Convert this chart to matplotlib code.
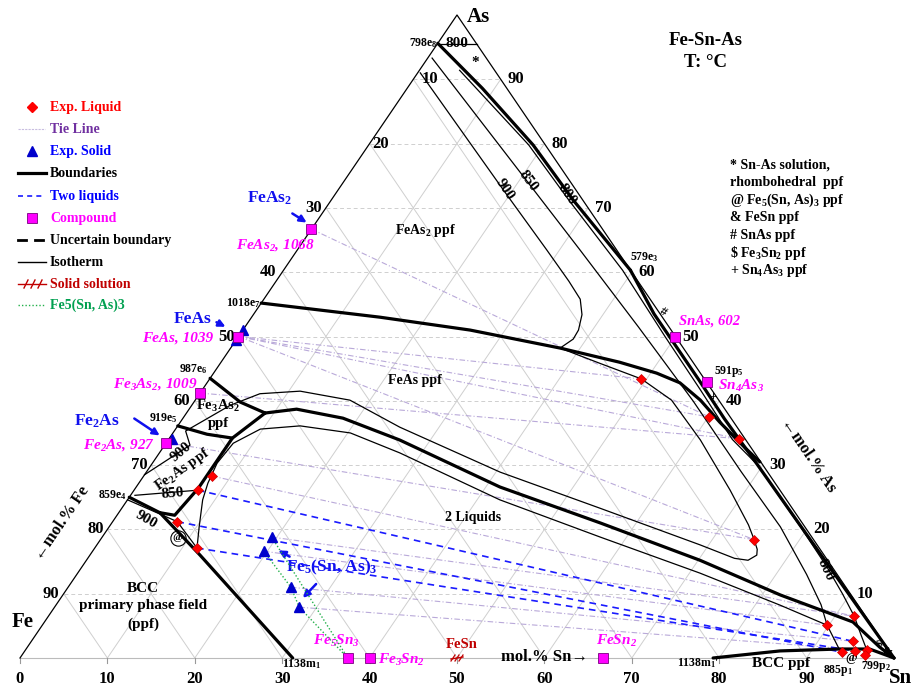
import numpy as np
import matplotlib.pyplot as plt

plt.rcParams['font.family'] = ['Liberation Serif', 'DejaVu Serif']
plt.rcParams['font.weight'] = 'bold'
plt.rcParams['mathtext.default'] = 'regular'

# all compositions are mol.% (Sn, As); Fe is the rest
levels = [10, 20, 30, 40, 50, 60, 70, 80, 90]
sn_ticks = [0, 10, 20, 30, 40, 50, 60, 70, 80, 90]
fe_label_dx = [17, 11, -12, -14, -12, -13, -12, -12, -13]

comp_sn = [0, 0, 0, 0, 50, 57.1, 37.5, 40, 66.7]
comp_as = [66.7, 50, 41.2, 33.5, 50, 42.9, 0, 0, 0]

liq_sn = [7.8, 7.3, 7.4, 11.7, 49.4, 60.1, 65.2, 74.8, 92.2, 89.8, 94.0, 93.6, 95.0, 96.3, 96.4]
liq_as = [28.3, 26.1, 21.2, 17.1, 43.4, 37.5, 34.1, 18.4, 6.5, 5.1, 2.6, 0.9, 1.1, 1.2, 0.5]

sol_sn = [0, 0, 0.3, 19.4, 19.6, 25.5, 28.0]
sol_as = [51.0, 49.5, 34.1, 18.8, 16.6, 11.0, 7.9]

# boundaries
bnd_as_corner = [(0, 95.6), (8.6, 88.6), (18.8, 79.8), (27.7, 71.2), (39.7, 60.3)]
bnd_snas = [(39.7, 60.3), (45.8, 53.5), (50.3, 49.0), (56.0, 43.3), (62.0, 37.2),
            (69.0, 30.4), (80.0, 19.6), (90.0, 9.8), (100, 0)]
bnd_1018 = [(0, 55.2), (14.7, 53.0), (26.0, 51.0), (37.7, 48.2), (45.6, 46.0), (50.7, 44.3),
            (54.1, 42.8), (57.8, 40.1), (61.7, 36.7), (66.6, 32.7), (69.4, 30.5)]
bnd_987 = [(0, 43.5), (5.3, 39.8), (9.0, 38.1)]
bnd_919 = [(0, 36.1), (4.0, 34.8), (7.2, 34.2)]
bnd_fe2as = [(9.0, 38.1), (7.2, 34.2), (7.2, 29.7), (7.2, 26.4), (6.6, 22.2), (4.7, 22.6)]
bnd_859 = [(0, 25.0), (4.7, 22.6)]
bnd_bcc = [(4.7, 22.6), (12.6, 16.0), (31.2, 0)]
bnd_valley = [(9.0, 38.1), (12.3, 38.7), (18.3, 37.3), (26.5, 33.9), (41.6, 26.6), (55.9, 21.0),
              (70.2, 15.2), (82.1, 9.8), (92.5, 5.6), (97.5, 1.7), (100, 0)]
bnd_bcc_sn = [(79.3, 0), (86.4, 1.1), (93.1, 1.4), (96.5, 1.4), (100, 0)]

# isotherms
iso_800_top = [(0, 95.5), (4.5, 95.5)]
iso_800 = [(4.6, 91.4), (18.3, 79.8), (27.2, 71.2), (38.8, 60.3), (48.8, 50.0), (57.0, 41.7),
           (64.5, 34.0), (69.4, 30.0), (79.5, 20.0), (85.4, 14.0), (89.1, 10.0), (92.2, 6.5),
           (94.5, 3.5), (96.3, 1.2)]
iso_850 = [(0.5, 93.3), (21.1, 74.0), (32.3, 63.5), (45.0, 51.5), (57.0, 40.0), (68.0, 29.0),
           (76.8, 20.4), (83.5, 13.0), (87.5, 8.3), (89.8, 5.1), (93.2, 1.2)]
iso_lower = [(89.8, 5.1), (82.9, 8.2), (71.2, 13.2), (57.0, 18.8), (42.6, 24.6), (27.5, 31.9),
             (20.3, 35.0), (14.0, 36.1), (9.7, 35.6), (7.7, 33.4), (7.4, 30.3), (7.9, 27.2),
             (8.6, 24.6), (10.3, 20.4), (11.7, 17.1)]
iso_900 = [(0.3, 91.0), (18.9, 72.8), (28.5, 63.5), (33.5, 58.6), (36.2, 55.8), (37.6, 53.4),
           (38.4, 51.0), (38.5, 49.6), (37.7, 48.2), (43.5, 45.8), (49.4, 43.4), (54.5, 40.1),
           (60.9, 33.9), (68.2, 26.1), (73.0, 20.7), (74.8, 18.4), (75.9, 16.9), (76.3, 16.0),
           (75.7, 15.2), (74.0, 15.5), (69.0, 17.6), (54.7, 23.3), (40.5, 28.9), (25.5, 35.9),
           (17.7, 40.1), (11.3, 41.5), (6.9, 41.1), (4.4, 39.3), (1.3, 35.3), (2.9, 33.1), (0, 28.5)]
iso_850_fe2as = [(0.5, 25.3), (7.3, 26.1)]
iso_900_bcc = [(0, 24.6), (7.4, 21.2), (11.7, 17.1)]

# two-liquid tie lines and other tie lines
two_liq = [[(7.3, 26.1), (94.0, 2.6)], [(7.4, 21.2), (93.6, 0.9)], [(11.7, 17.1), (95.0, 1.1)]]
tie_lines = [[(0, 50), (49.4, 43.4)], [(0, 50), (60.1, 37.5)], [(0, 50), (65.2, 34.1)],
             [(0, 66.7), (60.1, 37.5)], [(0, 33.5), (74.8, 18.4)], [(0, 50), (74.8, 18.4)],
             [(7.8, 28.3), (92.2, 6.5)], [(19.4, 18.8), (92.2, 6.5)], [(19.6, 16.6), (89.8, 5.1)],
             [(25.5, 11.0), (94.0, 2.6)], [(28.0, 7.9), (96.3, 1.2)], [(0, 41.2), (65.2, 34.1)]]

fe53_a = [(19.4, 18.8), (37.5, 0)]
fe53_b = [(19.6, 16.6), (25.5, 11.0), (28.0, 7.9), (37.5, 0)]


def tern(sn, ars):
    sn = np.asarray(sn, float) / 100.0
    ars = np.asarray(ars, float) / 100.0
    return 20 + 874 * (sn + ars / 2), 658 - 643 * ars


def curve(pts, **kw):
    p = np.array(pts, float)
    x, y = tern(p[:, 0], p[:, 1])
    ax.plot(x, y, **kw)


fig = plt.figure(figsize=(9.12, 6.91), dpi=100)
ax = fig.add_axes([0, 0, 1, 1])
ax.set_xlim(0, 912)
ax.set_ylim(691, 0)
ax.axis('off')

grid_c = '#cfcfcf'
for v in levels:
    curve([(0, v), (100 - v, v)], color=grid_c, lw=0.7, ls=(0, (4, 3)), zorder=1)
    curve([(v, 0), (v, 100 - v)], color=grid_c, lw=0.7, zorder=1)
    curve([(100 - v, 0), (0, 100 - v)], color=grid_c, lw=0.7, zorder=1)

curve([(0, 0), (100, 0)], color='#bbbbbb', lw=0.8, zorder=1)
curve([(0, 0), (0, 100), (100, 0)], color='black', lw=0.9, zorder=3)

# tick labels
for v in sn_ticks:
    x, y = tern(v, 0)
    ax.plot([x, x], [y, y + 5], color='#999999', lw=0.8)
    ax.text(x, y + 21, str(v), ha='center', va='center', fontsize=12)
for v, dx in zip(levels, fe_label_dx):
    x, y = tern(0, 100 - v)
    ax.text(x + dx, y, str(v), ha='center', va='center', fontsize=12)
for v in levels:
    x, y = tern(100 - v, v)
    ax.text(x + 15, y, str(v), ha='center', va='center', fontsize=12)

# tie lines
for a, b in tie_lines:
    curve([a, b], color='#b9a9d9', lw=0.8, ls=(0, (5, 2, 1, 2)), zorder=2)
for a, b in two_liq:
    curve([a, b], color='#1a1aff', lw=1.2, ls=(0, (4, 3)), zorder=4)
curve(fe53_a, color='#22b04a', lw=1.0, ls=(0, (1, 1.5)), zorder=4)
curve(fe53_b, color='#22b04a', lw=1.0, ls=(0, (1, 1.5)), zorder=4)

# boundaries
for b in [bnd_as_corner, bnd_snas, bnd_1018, bnd_987, bnd_919, bnd_fe2as, bnd_859,
          bnd_bcc, bnd_valley, bnd_bcc_sn]:
    curve(b, color='black', lw=2.3, solid_capstyle='round', solid_joinstyle='round', zorder=5)

# isotherms
for c in [iso_800_top, iso_800, iso_850, iso_lower, iso_900, iso_850_fe2as, iso_900_bcc]:
    curve(c, color='black', lw=0.9, solid_joinstyle='round', zorder=5)

# symbols
x, y = tern(sol_sn, sol_as)
ax.plot(x, y, '^', color='#0000cc', ms=6.5, ls='none', zorder=7)
x, y = tern(comp_sn, comp_as)
ax.plot(x, y, 's', mfc='#ff00ff', mec='#7a0080', mew=0.6, ms=7, ls='none', zorder=8)
x, y = tern(liq_sn, liq_as)
ax.plot(x, y, 'D', mfc='#ff0000', mec='#cc0000', mew=0.5, ms=5, ls='none', zorder=9)

# FeSn solid solution mark
fx, fy = tern(50, 0)
ax.plot([fx - 6, fx + 6], [fy + 1, fy - 1], color='#c00000', lw=1.0, zorder=9)
for dx in (-4, 0, 4):
    ax.plot([fx + dx - 2, fx + dx + 2], [fy + 3, fy - 3], color='#c00000', lw=0.9, zorder=9)

# corner labels and title
ax.text(467, 17, 'As', fontsize=15, ha='left', va='center')
ax.text(23, 622, 'Fe', fontsize=15, ha='center', va='center')
ax.text(889, 678, 'Sn', fontsize=15, ha='left', va='center')
ax.text(706, 40, 'Fe-Sn-As', fontsize=13.5, ha='center', va='center')
ax.text(706, 62, 'T: °C', fontsize=13.5, ha='center', va='center')

ax.text(62, 523, '←mol.% Fe', fontsize=12, rotation=55.8, ha='center', va='center')
ax.text(808, 455, '←mol.% As', fontsize=12, rotation=-55.8, ha='center', va='center')
ax.text(545, 657, 'mol.% Sn→', fontsize=12, ha='center', va='center')

notes = ['* Sn-As solution,', 'rhombohedral  ppf', '@ Fe$_5$(Sn, As)$_3$ ppf', '& FeSn ppf',
         '# SnAs ppf', r'\$ Fe$_3$Sn$_2$ ppf', '+ Sn$_4$As$_3$ ppf']
for i, t in enumerate(notes):
    ax.text(730, 165 + 17.6 * i, t, fontsize=10, ha='left', va='center')

# legend
ly = [107, 129, 151, 173, 196, 218, 240, 262, 284, 305]
leg = [('Exp. Liquid', '#ff0000'), ('Tie Line', '#7030a0'), ('Exp. Solid', '#0000ff'),
       ('Boundaries', 'black'), ('Two liquids', '#0000ff'), ('Compound', '#ff00ff'),
       ('Uncertain boundary', 'black'), ('Isotherm', 'black'), ('Solid solution', '#c00000'),
       ('Fe5(Sn, As)3', '#00a050')]
for (t, c), y in zip(leg, ly):
    ax.text(50, y, t, color=c, fontsize=10, ha='left', va='center')
ax.plot(32, ly[0], 'D', color='#ff0000', ms=5)
ax.plot([18, 45], [ly[1]] * 2, color='#c8bde0', lw=0.8, ls=(0, (2, 1)))
ax.plot(32, ly[2], '^', color='#0000cc', ms=6.5)
ax.plot([18, 46], [ly[3]] * 2, color='black', lw=2.3)
ax.plot([18, 45], [ly[4]] * 2, color='#1a1aff', lw=1.2, ls=(0, (3, 2.5)))
ax.plot(32, ly[5], 's', mfc='#ff00ff', mec='#7a0080', mew=0.6, ms=7)
ax.plot([18, 26], [ly[6]] * 2, color='black', lw=2.0)
ax.plot([35, 43], [ly[6]] * 2, color='black', lw=2.0)
ax.plot([18, 46], [ly[7]] * 2, color='black', lw=1.0)
ax.plot([18, 46], [ly[8]] * 2, color='#c00000', lw=1.0)
for dx in (26, 33, 40):
    ax.plot([dx - 2, dx + 2], [ly[8] + 4, ly[8] - 4], color='#c00000', lw=1.0)
ax.plot([18, 45], [ly[9]] * 2, color='#22b04a', lw=1.0, ls=(0, (1, 1.5)))

# compound labels
mag = '#ff00ff'
ax.text(275, 245, 'FeAs$_2$, 1068', color=mag, style='italic', fontsize=11, ha='center', va='center')
ax.text(213, 338, 'FeAs, 1039', color=mag, style='italic', fontsize=11, ha='right', va='center')
ax.text(198, 384, 'Fe$_3$As$_2$, 1009', color=mag, style='italic', fontsize=11, ha='right', va='center')
ax.text(155, 445, 'Fe$_2$As, 927', color=mag, style='italic', fontsize=11, ha='right', va='center')
ax.text(679, 321, 'SnAs, 602', color=mag, style='italic', fontsize=10.5, ha='left', va='center')
ax.text(718, 386, 'Sn$_4$As$_3$', color=mag, style='italic', fontsize=11, ha='left', va='center')
ax.text(336, 641, 'Fe$_5$Sn$_3$', color=mag, style='italic', fontsize=11, ha='center', va='center')
ax.text(378, 660, 'Fe$_3$Sn$_2$', color=mag, style='italic', fontsize=11, ha='left', va='center')
ax.text(617, 641, 'FeSn$_2$', color=mag, style='italic', fontsize=11, ha='center', va='center')
ax.text(462, 645, 'FeSn', color='#c00000', fontsize=10.5, ha='center', va='center')

blue = '#1010ee'
ax.text(270, 198, 'FeAs$_2$', color=blue, fontsize=12.5, ha='center', va='center')
ax.text(193, 319, 'FeAs', color=blue, fontsize=12.5, ha='center', va='center')
ax.text(97, 421, 'Fe$_2$As', color=blue, fontsize=12.5, ha='center', va='center')
ax.text(332, 567, 'Fe$_5$(Sn, As)$_3$', color=blue, fontsize=12.5, ha='center', va='center')
arrows = [((290, 212), (309, 224)), ((214, 321), (228, 328)), ((132, 417), (162, 437)),
          ((292, 558), (276, 549)), ((318, 582), (301, 600))]
for (x0, y0), (x1, y1) in arrows:
    ax.annotate('', xy=(x1, y1), xytext=(x0, y0),
                arrowprops=dict(arrowstyle='-|>', color=blue, lw=1.8, mutation_scale=10))

# phase field labels
ax.text(426, 230, 'FeAs$_2$ ppf', fontsize=10, ha='center', va='center')
ax.text(415, 380, 'FeAs ppf', fontsize=10, ha='center', va='center')
ax.text(218, 406, 'Fe$_3$As$_2$', fontsize=10.5, ha='center', va='center')
ax.text(218, 423, 'ppf', fontsize=10.5, ha='center', va='center')
ax.text(182, 470, 'Fe$_2$As ppf', fontsize=10.5, rotation=35, ha='center', va='center')
ax.text(473, 518, '2 Liquids', fontsize=10, ha='center', va='center')
ax.text(143, 588, 'BCC', fontsize=11, ha='center', va='center')
ax.text(143, 606, 'primary phase field', fontsize=11, ha='center', va='center')
ax.text(143, 624, '(ppf)', fontsize=11, ha='center', va='center')
ax.text(781, 664, 'BCC ppf', fontsize=11, ha='center', va='center')

# isotherm labels
iso_lbl = [('800', 457, 43, 0), ('900', 505, 189, -56), ('850', 528, 181, -53),
           ('800', 567, 194, -55), ('800', 826, 570, -65), ('900', 181, 452, 40),
           ('850', 173, 494, 5), ('900', 146, 520, -30)]
for t, x, y, r in iso_lbl:
    ax.text(x, y, t, fontsize=11, rotation=r, ha='center', va='center', zorder=6)

# invariant points
ax.text(438, 43, '798e$_8$', fontsize=8.5, ha='right', va='center')
ax.text(261, 303, '1018e$_7$', fontsize=8.5, ha='right', va='center')
ax.text(193, 369, '987e$_6$', fontsize=8.5, ha='center', va='center')
ax.text(163, 418, '919e$_5$', fontsize=8.5, ha='center', va='center')
ax.text(112, 495, '859e$_4$', fontsize=8.5, ha='center', va='center')
ax.text(644, 257, '579e$_3$', fontsize=8.5, ha='center', va='center')
ax.text(729, 371, '591p$_5$', fontsize=8.5, ha='center', va='center')
ax.text(302, 664, '1138m$_1$', fontsize=8.5, ha='center', va='center')
ax.text(698, 663, "1138m$_1$'", fontsize=8.5, ha='center', va='center')
ax.text(838, 670, '885p$_1$', fontsize=8.5, ha='center', va='center')
ax.text(876, 667, '799p$_2$', fontsize=8.5, ha='center', va='center')

ax.text(475, 62, '*', fontsize=11, ha='center', va='center')
ax.text(663, 312, '#', fontsize=9, rotation=-30, ha='center', va='center')
ax.text(713, 397, '+', fontsize=9, ha='center', va='center')
ax.text(851, 658, '@', fontsize=9, ha='center', va='center')
ax.text(887, 652, '&', fontsize=9, ha='center', va='center')
ax.text(879, 644, r'\$', fontsize=8, rotation=30, ha='center', va='center')
ax.text(178, 538, '@', fontsize=8, ha='center', va='center', zorder=8)
ax.plot(178, 538, 'o', mfc='none', mec='black', mew=0.8, ms=11, zorder=8)

fig.savefig('out.png', dpi=100)
